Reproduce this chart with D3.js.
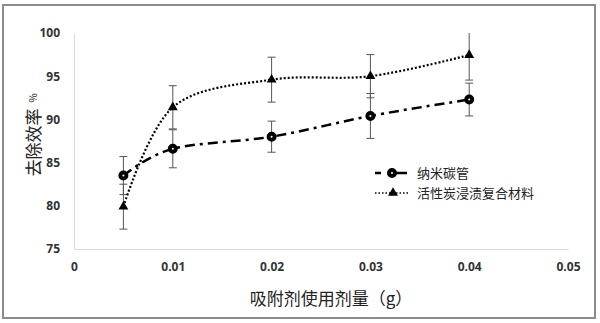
<!DOCTYPE html>
<html><head><meta charset="utf-8">
<script src="https://cdn.jsdelivr.net/npm/d3@7"></script>
<style>body{margin:0;background:#fff}svg{display:block}</style>
</head><body><svg id="c" width="600" height="323"></svg>
<script>
const xValues = [0.005, 0.01, 0.02, 0.03, 0.04];
const cntValues = [83.5, 86.6, 88.0, 90.4, 92.3];
const cntErr = [2.2, 2.2, 1.8, 2.6, 1.9];
const acValues = [79.9, 91.4, 94.6, 95.0, 97.45];
const acErr = [2.6, 2.5, 2.6, 2.5, 2.9];
const seriesNames = ["纳米碳管", "活性炭浸渍复合材料"];
const xTicks = [0, 0.01, 0.02, 0.03, 0.04, 0.05];
const xTickLabels = ["0", "0.01", "0.02", "0.03", "0.04", "0.05"];
const yTicks = [75, 80, 85, 90, 95, 100];
const xTitle = "吸附剂使用剂量（g）";
const yTitle = "去除效率";

const svg = d3.select("#c");
const L = 74, R = 568, T = 33, B = 249;
const x = d3.scaleLinear().domain([0, 0.05]).range([L, R]);
const y = d3.scaleLinear().domain([75, 100]).range([B, T]);
const num = "'Open Sans','Liberation Sans',sans-serif";
const cjk = "'Noto Sans CJK SC','Noto Sans',sans-serif";

svg.append("rect").attr("x", 3).attr("y", 5).attr("width", 592).attr("height", 313)
  .attr("fill", "#fff").attr("stroke", "#8c8c8c").attr("stroke-width", 2);

svg.append("defs").append("clipPath").attr("id", "clip").append("rect")
  .attr("x", L - 20).attr("y", T).attr("width", R - L + 40).attr("height", B - T + 20);

// axes
const yAx = svg.append("g").attr("transform", `translate(${L},0)`)
  .call(d3.axisLeft(y).tickValues(yTicks).tickSize(0).tickPadding(14).tickFormat(d3.format("d")));
yAx.select(".domain").attr("stroke", "#d9d9d9");
const xAx = svg.append("g").attr("transform", `translate(0,${B})`)
  .call(d3.axisBottom(x).tickValues(xTicks).tickSize(0).tickPadding(13).tickFormat((d, i) => xTickLabels[i]));
xAx.select(".domain").attr("stroke", "#d9d9d9");
svg.selectAll(".tick text").attr("font-family", num).attr("font-weight", "bold")
  .attr("font-size", 12).attr("fill", "#333");

// titles
svg.append("text").attr("transform", "translate(40,135) rotate(-90)")
  .attr("text-anchor", "middle").attr("font-family", cjk).attr("font-size", 17).attr("fill", "#222")
  .text(yTitle).append("tspan").attr("font-size", 10).attr("dx", 6).attr("dy", -3).text("%");
svg.append("text").attr("x", 331).attr("y", 305).attr("text-anchor", "middle")
  .attr("font-family", cjk).attr("font-size", 17).attr("fill", "#222").text(xTitle);

const plot = svg.append("g").attr("clip-path", "url(#clip)");

function errBars(vals, errs) {
  vals.forEach((v, i) => {
    const cx = x(xValues[i]);
    const g = plot.append("g").attr("stroke", "#555").attr("stroke-width", 1);
    g.append("line").attr("x1", cx).attr("x2", cx).attr("y1", y(v + errs[i])).attr("y2", y(v - errs[i]));
    [v + errs[i], v - errs[i]].forEach(e => {
      if (e <= 100) g.append("line").attr("x1", cx - 4).attr("x2", cx + 4).attr("y1", y(e)).attr("y2", y(e));
    });
  });
}
errBars(cntValues, cntErr);
errBars(acValues, acErr);

const line = d3.line().x(d => x(d[0])).y(d => y(d[1])).curve(d3.curveCardinal.tension(0));
plot.append("path").datum(xValues.map((d, i) => [d, cntValues[i]]))
  .attr("d", line).attr("fill", "none").attr("stroke", "#000").attr("stroke-width", 2.5)
  .attr("stroke-dasharray", "10,5,3,5");
plot.append("path").datum(xValues.map((d, i) => [d, acValues[i]]))
  .attr("d", line).attr("fill", "none").attr("stroke", "#000").attr("stroke-width", 2.2)
  .attr("stroke-dasharray", "2,2");

function circleMark(g, cx, cy) {
  g.append("circle").attr("cx", cx).attr("cy", cy).attr("r", 3)
    .attr("fill", "#fff").attr("stroke", "#000").attr("stroke-width", 4);
}
const tri = d3.symbol().type(d3.symbolTriangle).size(42);
function triMark(g, cx, cy) {
  g.append("path").attr("d", tri).attr("transform", `translate(${cx},${cy})`).attr("fill", "#000");
}
xValues.forEach((d, i) => circleMark(plot, x(d), y(cntValues[i])));
xValues.forEach((d, i) => triMark(plot, x(d), y(acValues[i])));

// legend
const lg = svg.append("g");
lg.append("line").attr("x1", 375).attr("x2", 407).attr("y1", 173).attr("y2", 173)
  .attr("stroke", "#000").attr("stroke-width", 2.5).attr("stroke-dasharray", "6,7,20");
circleMark(lg, 392, 173);
lg.append("line").attr("x1", 375).attr("x2", 410).attr("y1", 193).attr("y2", 193)
  .attr("stroke", "#000").attr("stroke-width", 1.5).attr("stroke-dasharray", "1.5,2");
triMark(lg, 393, 193);
seriesNames.forEach((n, i) => {
  lg.append("text").attr("x", 417).attr("y", 173 + i * 20).attr("dy", "0.35em")
    .attr("font-family", cjk).attr("font-size", 13).attr("fill", "#222").text(n);
});
</script></body></html>
